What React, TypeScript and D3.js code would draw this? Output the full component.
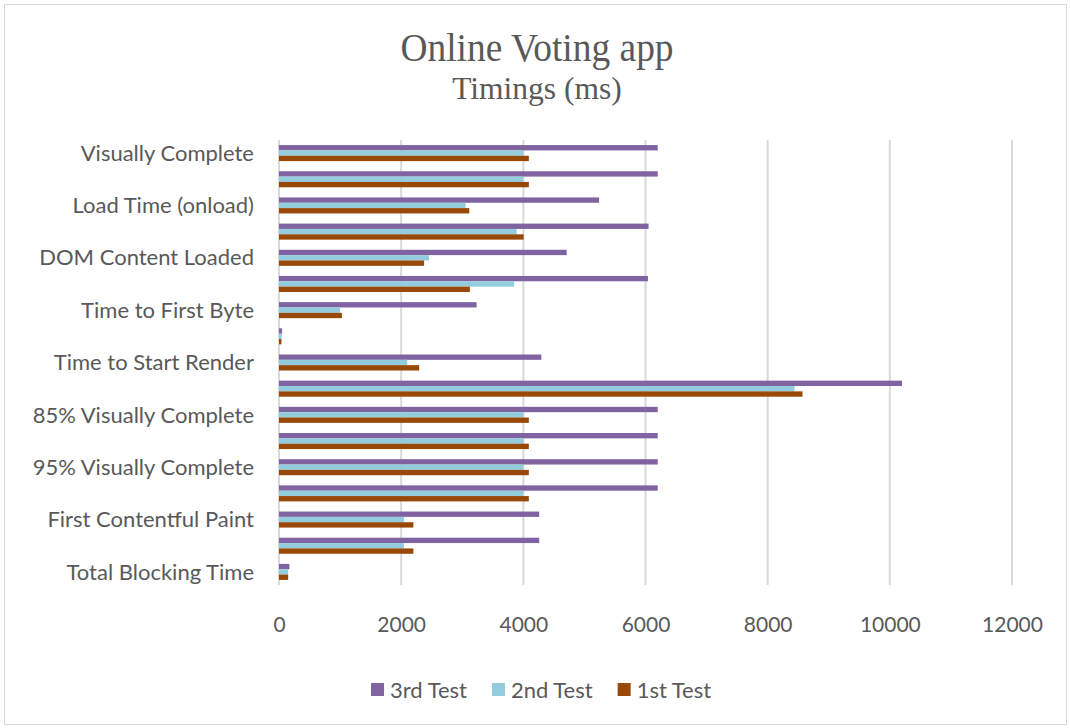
import React, { useEffect, useRef } from "react";
import * as d3 from "d3";

// categories top to bottom (Excel only prints every second label)
const categories = [
  "Visually Complete",
  "Last Visual Change",
  "Load Time (onload)",
  "Fully Loaded",
  "DOM Content Loaded",
  "Document Complete",
  "Time to First Byte",
  "Cumulative Layout Shift",
  "Time to Start Render",
  "Speed Index",
  "85% Visually Complete",
  "90% Visually Complete",
  "95% Visually Complete",
  "99% Visually Complete",
  "First Contentful Paint",
  "Largest Contentful Paint",
  "Total Blocking Time",
];

const test3 = [6200, 6200, 5240, 6050, 4710, 6040, 3235, 50, 4295, 10200, 6200, 6200, 6200, 6200, 4260, 4260, 170];
const test2 = [4000, 4000, 3055, 3890, 2455, 3850, 1000, 45, 2100, 8440, 4000, 4000, 4000, 4000, 2045, 2045, 150];
const test1 = [4090, 4090, 3115, 4005, 2375, 3125, 1030, 40, 2295, 8570, 4090, 4090, 4090, 4090, 2200, 2200, 150];

const seriesNames = ["3rd Test", "2nd Test", "1st Test"];
const seriesColors = ["#8064a2", "#93cddd", "#984807"];
const xTicks = [0, 2000, 4000, 6000, 8000, 10000, 12000];

const W = 1070;
const H = 728;
const font = "Lato, 'Noto Sans', sans-serif";
const textColor = "#595959";

export default function App() {
  const ref = useRef<SVGSVGElement>(null);

  useEffect(() => {
    const svg = d3.select(ref.current);
    svg.selectAll("*").remove();

    const values = [test3, test2, test1];
    const margin = { top: 140, left: 279, right: 58, bottom: 143 };

    const x = d3.scaleLinear().domain([0, 12000]).range([margin.left, W - margin.right]);
    const y = d3.scaleBand().domain(categories).range([margin.top, H - margin.bottom]).padding(0);
    const sub = d3.scaleBand().domain(seriesNames).range([0, y.bandwidth()]).paddingInner(0).paddingOuter(0.95);

    // outer border
    svg.append("rect")
      .attr("x", 4.5).attr("y", 4.5)
      .attr("width", W - 8).attr("height", H - 8)
      .attr("fill", "#fff").attr("stroke", "#d9d9d9").attr("stroke-width", 1);

    // title
    svg.append("text")
      .attr("transform", `translate(${W / 2 + 2},61) scale(0.96,1)`)
      .attr("text-anchor", "middle")
      .attr("font-family", "'Liberation Serif', 'Times New Roman', serif")
      .attr("font-size", 39)
      .attr("fill", textColor)
      .text("Online Voting app");
    svg.append("text")
      .attr("x", W / 2 + 2).attr("y", 99)
      .attr("text-anchor", "middle")
      .attr("font-family", "'Liberation Serif', 'Times New Roman', serif")
      .attr("font-size", 31.5)
      .attr("fill", textColor)
      .text("Timings (ms)");

    // gridlines
    svg.append("g")
      .selectAll("line")
      .data(xTicks)
      .join("line")
      .attr("x1", d => x(d)).attr("x2", d => x(d))
      .attr("y1", margin.top).attr("y2", H - margin.bottom)
      .attr("stroke", "#d9d9d9").attr("stroke-width", 2);

    // bars
    const groups = svg.append("g")
      .selectAll("g")
      .data(categories)
      .join("g")
      .attr("transform", d => `translate(0,${y(d)})`);

    groups.selectAll("rect")
      .data((d, i) => seriesNames.map((s, k) => ({ s, k, v: values[k][i] })))
      .join("rect")
      .attr("x", x(0))
      .attr("y", d => sub(d.s)!)
      .attr("width", d => x(d.v) - x(0))
      .attr("height", sub.bandwidth())
      .attr("fill", d => seriesColors[d.k]);

    // category labels, every second one
    svg.append("g")
      .selectAll("text")
      .data(categories.filter((_, i) => i % 2 === 0))
      .join("text")
      .attr("x", 254)
      .attr("y", d => y(d)! + y.bandwidth() / 2)
      .attr("dy", "0.35em")
      .attr("text-anchor", "end")
      .attr("font-family", font)
      .attr("font-size", 22)
      .attr("fill", textColor)
      .text(d => d);

    // x axis tick labels
    const xAxis = svg.append("g")
      .attr("transform", `translate(0,${H - margin.bottom + 40})`)
      .call(d3.axisBottom(x).tickValues(xTicks).tickSize(0).tickPadding(0).tickFormat(d3.format("d")));
    xAxis.select(".domain").remove();
    xAxis.selectAll("text")
      .attr("font-family", font)
      .attr("font-size", 21)
      .attr("fill", textColor)
      .attr("dy", "0.35em");

    // legend
    const legend = svg.append("g").attr("transform", "translate(0,690)");
    let lx = 371;
    seriesNames.forEach((name, k) => {
      legend.append("rect")
        .attr("x", lx).attr("y", -7)
        .attr("width", 13).attr("height", 13)
        .attr("fill", seriesColors[k]);
      const t = legend.append("text")
        .attr("x", lx + 19).attr("y", 0)
        .attr("dy", "0.35em")
        .attr("font-family", font)
        .attr("font-size", 22)
        .attr("fill", textColor)
        .text(name);
      const w = (t.node() as SVGTextElement).getComputedTextLength();
      lx += 19 + w + 25;
    });
  }, []);

  return (
    <svg ref={ref} width={W} height={H} style={{ position: "absolute", left: 0, top: 0 }} />
  );
}
